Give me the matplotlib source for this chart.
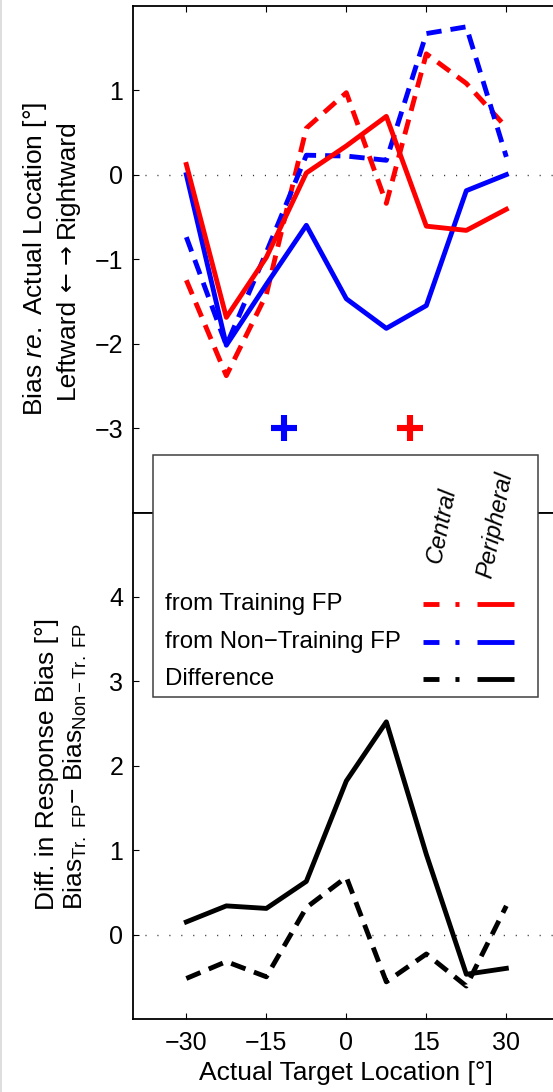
import matplotlib
matplotlib.use("Agg")
import matplotlib.pyplot as plt
from matplotlib.lines import Line2D
from matplotlib.patches import Rectangle

plt.rcParams['font.family'] = ['Liberation Sans', 'DejaVu Sans']
plt.rcParams['mathtext.fontset'] = 'custom'
plt.rcParams['mathtext.rm'] = 'Liberation Sans'
plt.rcParams['mathtext.it'] = 'Liberation Sans:italic'
plt.rcParams['lines.scale_dashes'] = False

# ---- data ----
locations = [-30, -22.5, -15, -7.5, 0, 7.5, 15, 22.5, 30]
train_central = [-1.25, -2.38, -1.42, 0.55, 0.97, -0.34, 1.43, 1.08, 0.56]
train_peripheral = [0.12, -1.69, -0.98, 0.02, 0.34, 0.69, -0.61, -0.66, -0.41]
nontrain_central = [-0.74, -2.02, -0.92, 0.23, 0.22, 0.17, 1.67, 1.75, 0.21]
nontrain_peripheral = [0.0, -2.02, -1.30, -0.60, -1.47, -1.82, -1.55, -0.19, 0.0]
diff_central = [-0.52, -0.32, -0.50, 0.32, 0.68, -0.56, -0.23, -0.61, 0.34]
diff_peripheral = [0.15, 0.34, 0.31, 0.63, 1.82, 2.52, 0.95, -0.47, -0.40]
marker_x = [-11.75, 11.9]
marker_y = [-3.0, -3.0]
marker_colors = ['blue', 'red']
xticks = [-30, -15, 0, 15, 30]
top_yticks = [-3, -2, -1, 0, 1]
bot_yticks = [0, 1, 2, 3, 4]
legend_labels = ['from Training FP', 'from Non\u2212Training FP', 'Difference']
legend_colors = ['red', 'blue', 'black']
column_labels = ['Central', 'Peripheral']

W, H = 553, 1092
fig = plt.figure(figsize=(W / 100, H / 100), dpi=100)

def fx(px):
    return px / W

def fy(py):
    return 1 - py / H

left = 133
ax_w = 80 * 5.3333
ax1 = fig.add_axes([fx(left), fy(512.5), ax_w / W, (512.5 - 5.7) / H])
ax2 = fig.add_axes([fx(left), fy(1019), ax_w / W, (1019 - 512.5) / H])

LW = 3.5
dash = (0, (11, 6.5))
dots = (0, (0.8, 7.8))
TICK_FS = 18
LAB_FS = 19

for ax in (ax1, ax2):
    ax.set_xlim(-40, 40)
    ax.set_xticks(xticks)
    ax.tick_params(direction='in', length=4, width=0.8, top=True, right=True,
                   labelsize=TICK_FS, pad=7)
    for s in ax.spines.values():
        s.set_linewidth(1.3)
    ax.spines['right'].set_visible(False)
    ax.axhline(0, color='#333333', lw=1.0, linestyle=dots, zorder=1)

ax1.plot(locations, train_central, color='red', lw=LW, linestyle=dash)
ax1.plot(locations, nontrain_central, color='blue', lw=LW, linestyle=dash)
ax1.plot(locations, nontrain_peripheral, color='blue', lw=LW)
ax1.plot(locations, train_peripheral, color='red', lw=LW)
for mx, my, mc in zip(marker_x, marker_y, marker_colors):
    ax1.plot([mx], [my], marker='+', color=mc, markersize=19, mew=4.4)
ax1.set_ylim(-4, 2)
ax1.set_yticks(top_yticks)
ax1.set_yticklabels(['\u22123', '\u22122', '\u22121', '0', '1'])
ax1.tick_params(labelbottom=False)

ax2.plot(locations, diff_central, color='black', lw=LW, linestyle=dash)
ax2.plot(locations, diff_peripheral, color='black', lw=LW)
ax2.set_ylim(-1, 5)
ax2.set_yticks(bot_yticks)
ax2.set_xticklabels(['\u221230', '\u221215', '0', '15', '30'])
ax2.tick_params(axis='x', pad=9)
ax2.set_xlabel('Actual Target Location [\u00b0]', fontsize=LAB_FS, labelpad=4)

# y labels as figure texts
fig.text(fx(35), fy(259), 'Bias $\\it{re.}$ Actual Location [\u00b0]', rotation=90,
         ha='center', va='center', fontsize=LAB_FS)
fig.text(fx(47), fy(764), 'Diff. in Response Bias [\u00b0]', rotation=90,
         ha='center', va='center', fontsize=LAB_FS)
fig.text(fx(75), fy(766), 'Bias$_{\\mathrm{Tr.\\ FP}}$\u2212 Bias$_{\\mathrm{Non\u2212Tr.\\ FP}}$',
         rotation=90, ha='center', va='center', fontsize=LAB_FS)

# second line of the top label, built from pieces so the arrows are full size
pieces = [('Leftward', 'Liberation Sans', LAB_FS),
          ('\u2190', 'DejaVu Sans', 17),
          ('\u2192', 'DejaVu Sans', 17),
          ('Rightward', 'Liberation Sans', LAB_FS)]
gap = 7.0  # px between pieces
renderer = fig.canvas.get_renderer()
sizes = []
for txt, fam, fs in pieces:
    t = fig.text(0, 0, txt, fontsize=fs, family=fam)
    bb = t.get_window_extent(renderer)
    sizes.append(bb.width)
    t.remove()
total = sum(sizes) + gap * (len(pieces) - 1)
ypos = 259 + total / 2  # bottom end in pixel-from-top coords
for (txt, fam, fs), sz in zip(pieces, sizes):
    center = ypos - sz / 2
    fig.text(fx(67), fy(center), txt, rotation=90, ha='center', va='center',
             fontsize=fs, family=fam)
    ypos -= sz + gap

# legend box drawn manually
fig.patches.append(Rectangle((fx(153.3), fy(697)), (538.3 - 153.3) / W, (697 - 455) / H,
                             transform=fig.transFigure, facecolor='white',
                             edgecolor='#404040', lw=1.1, zorder=5))
rows_y = [604, 641.7, 679]
for lab, col, yy in zip(legend_labels, legend_colors, rows_y):
    fig.text(fx(165), fy(yy), lab, ha='left', va='center', fontsize=17.3, zorder=6)
    fig.lines.append(Line2D([fx(423), fx(459)], [fy(yy), fy(yy)], transform=fig.transFigure,
                            color=col, lw=LW, linestyle=(0, (11.5, 11.5)), zorder=6,
                            solid_capstyle='butt', dash_capstyle='butt'))
    fig.lines.append(Line2D([fx(477), fx(514)], [fy(yy), fy(yy)], transform=fig.transFigure,
                            color=col, lw=LW, zorder=6, solid_capstyle='butt'))
fig.text(fx(441.7), fy(525), column_labels[0], rotation=79, style='italic',
         ha='center', va='center', fontsize=17, zorder=6, rotation_mode='anchor')
fig.text(fx(495), fy(525), column_labels[1], rotation=79, style='italic',
         ha='center', va='center', fontsize=17, zorder=6, rotation_mode='anchor')

# thin light-gray frame edge at left
fig.lines.append(Line2D([fx(1), fx(1)], [0, 1], transform=fig.transFigure,
                        color='#d8d8d8', lw=1.2, zorder=6))

fig.savefig('out.png', dpi=100)
